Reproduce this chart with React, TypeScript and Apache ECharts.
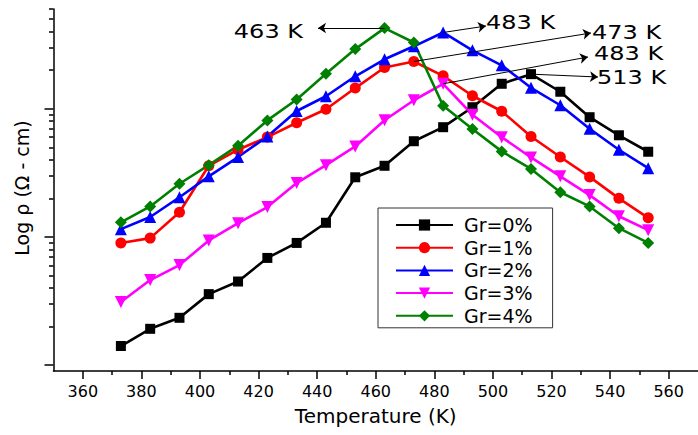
import React, { useEffect, useRef } from "react";
import * as echarts from "echarts";

const temps = [373, 383, 393, 403, 413, 423, 433, 443, 453, 463, 473, 483, 493, 503, 513, 523, 533, 543, 553];
const seriesNames = ["Gr=0%", "Gr=1%", "Gr=2%", "Gr=3%", "Gr=4%"];
const gr0 = [14100, 19200, 23400, 35800, 44900, 68600, 89800, 129000, 292000, 359000, 558000, 718000, 1028000, 1566000, 1862000, 1357000, 859000, 621000, 462000];
const gr1 = [89800, 97900, 156000, 359000, 479000, 601000, 778000, 991000, 1450000, 2099000, 2337000, 1807000, 1263000, 956000, 608000, 420000, 294000, 200000, 141000];
const gr2 = [115000, 143000, 204000, 297000, 420000, 608000, 960000, 1251000, 1792000, 2431000, 3070000, 3935000, 2858000, 2183000, 1458000, 1065000, 698000, 479000, 344000];
const gr3 = [31100, 46100, 60300, 93900, 128000, 171000, 263000, 363000, 508000, 813000, 1165000, 1566000, 898000, 600000, 417000, 297000, 212000, 145000, 113000];
const gr4 = [130000, 173000, 260000, 363000, 515000, 811000, 1182000, 1875000, 2920000, 4256000, 3288000, 1055000, 695000, 465000, 339000, 223000, 173000, 117000, 89800];

const xMajorTicks = [360, 380, 400, 420, 440, 460, 480, 500, 520, 540, 560];
const xMinorTicks = [370, 390, 410, 430, 450, 470, 490, 510, 530, 550];
const yMajorTicks = [10000, 100000, 1000000];
const yMinorTicks = [
  20000, 30000, 40000, 50000, 60000, 70000, 80000, 90000,
  200000, 300000, 400000, 500000, 600000, 700000, 800000, 900000,
  2000000, 3000000, 4000000, 5000000, 6000000,
];

// peak annotations: label text and index of the peak point in each series
const peakLabels = ["513 K", "473 K", "483 K", "483 K", "463 K"];
const peakIndex = [14, 10, 11, 11, 9];

const FONT = "DejaVu Sans";

export default function App() {
  const ref = useRef<HTMLDivElement>(null);
  useEffect(() => {
    if (!ref.current) return;
    const chart = echarts.init(ref.current, undefined, { renderer: "svg" });
    const allData = [gr0, gr1, gr2, gr3, gr4];
    const colors = ["#000000", "#ff0000", "#0000ff", "#ff00ff", "#008000"];
    const symbols = ["rect", "circle", "triangle", "triangle", "diamond"];
    const symbolSizes = [10, 11, 12, 12, 12];
    const rotates = [0, 0, 0, 180, 0];
    const arrowEnds = [
      { x: 598, y: 77 },
      { x: 591, y: 33 },
      { x: 486, y: 26 },
      { x: 588, y: 57 },
      { x: 318, y: 28 },
    ];

    const series = allData.map((arr, s) => ({
      name: seriesNames[s],
      type: "line",
      data: temps.map((t, i) => [t, arr[i]]),
      symbol: symbols[s],
      symbolSize: symbolSizes[s],
      symbolRotate: rotates[s],
      lineStyle: { color: colors[s], width: 2.6 },
      itemStyle: { color: colors[s] },
      emphasis: { disabled: true },
      markLine: {
        silent: true,
        symbol: ["none", "arrow"],
        symbolSize: 8,
        label: { show: false },
        lineStyle: { color: "#000", width: 1, type: "solid" },
        emphasis: { disabled: true },
        data: [
          [
            { coord: [temps[peakIndex[s]], arr[peakIndex[s]]] },
            arrowEnds[s],
          ],
        ],
      },
    }));

    const textPos = [
      { x: 597, y: 77, align: "left" },
      { x: 592, y: 32, align: "left" },
      { x: 486, y: 22, align: "left" },
      { x: 594, y: 53, align: "left" },
      { x: 303, y: 31, align: "right" },
    ];

    chart.setOption({
      animation: false,
      backgroundColor: "#ffffff",
      grid: { left: 53.5, top: 9, width: 647, height: 362, containLabel: false },
      legend: {
        orient: "vertical",
        left: 378,
        top: 208,
        padding: [7, 20, 2, 17],
        itemWidth: 57,
        itemHeight: 14,
        itemGap: 2.7,
        borderColor: "#333",
        borderWidth: 1,
        selectedMode: false,
        textStyle: { fontFamily: FONT, fontSize: 19, color: "#000", lineHeight: 20, padding: [0, 0, 0, 6] },
        data: seriesNames,
      },
      xAxis: [
        {
          type: "value",
          min: 350,
          max: 570,
          axisLine: { show: true, lineStyle: { color: "#000", width: 1.5 } },
          axisTick: { show: true, customValues: xMajorTicks, length: 8, lineStyle: { color: "#000", width: 1.5 } },
          axisLabel: { customValues: xMajorTicks, fontFamily: FONT, fontSize: 16, color: "#000", margin: 12 },
          splitLine: { show: false },
          name: "Temperature (K)",
          nameLocation: "middle",
          nameGap: 35,
          nameTextStyle: { fontFamily: FONT, fontSize: 20, color: "#000" },
        },
        {
          type: "value",
          min: 350,
          max: 570,
          position: "bottom",
          axisLine: { show: false },
          axisTick: { show: true, customValues: xMinorTicks, length: 4, lineStyle: { color: "#000", width: 1.5 } },
          axisLabel: { show: false },
          splitLine: { show: false },
        },
      ],
      yAxis: [
        {
          type: "log",
          min: 9000,
          max: 6000000,
          axisLine: { show: true, lineStyle: { color: "#000", width: 1.5 } },
          axisTick: { show: true, customValues: yMajorTicks, length: 9, lineStyle: { color: "#000", width: 1.5 } },
          axisLabel: { show: false },
          splitLine: { show: false },
          name: "Log \u03c1 (\u03a9 - cm)",
          nameLocation: "middle",
          nameGap: 22,
          nameTextStyle: { fontFamily: FONT, fontSize: 19, color: "#000", padding: [0, 0, 0, 4] },
        },
        {
          type: "log",
          min: 9000,
          max: 6000000,
          position: "left",
          axisLine: { show: false },
          axisTick: { show: true, customValues: yMinorTicks, length: 4.5, lineStyle: { color: "#000", width: 1.5 } },
          axisLabel: { show: false },
          splitLine: { show: false },
        },
      ],
      graphic: peakLabels.map((txt, s) => ({
        type: "text",
        x: textPos[s].x,
        y: textPos[s].y,
        scaleX: 1.2,
        silent: true,
        style: {
          text: txt,
          fontFamily: FONT,
          fontSize: 20,
          fill: "#000",
          textAlign: textPos[s].align,
          textVerticalAlign: "middle",
        },
      })),
      series,
    });
    return () => chart.dispose();
  }, []);
  return (
    <div
      ref={ref}
      style={{ position: "fixed", left: 0, top: 0, width: 698, height: 435 }}
    />
  );
}
